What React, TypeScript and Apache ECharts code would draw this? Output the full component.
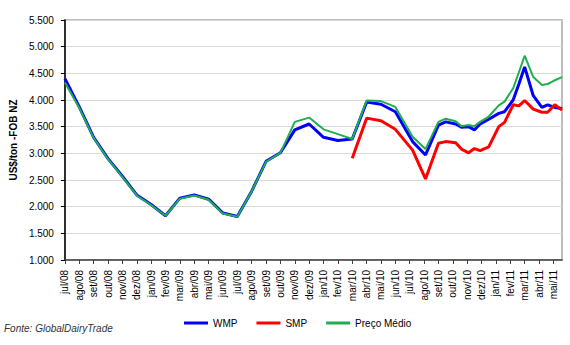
import React, { useEffect, useRef } from "react";
import * as echarts from "echarts";

// Month tick labels (index 0 = jul/08)
const monthLabels = [
  "jul/08", "ago/08", "set/08", "out/08", "nov/08", "dez/08",
  "jan/09", "fev/09", "mar/09", "abr/09", "mai/09", "jun/09",
  "jul/09", "ago/09", "set/09", "out/09", "nov/09", "dez/09",
  "jan/10", "fev/10", "mar/10", "abr/10", "mai/10", "jun/10",
  "jul/10", "ago/10", "set/10", "out/10", "nov/10", "dez/10",
  "jan/11", "fev/11", "mar/11", "abr/11", "mai/11",
];

// Auction positions, in months since jul/08
const auctionPos = [
  0, 1, 2, 3, 4, 5, 6, 7, 8, 9, 10, 11, 12, 13, 14, 15, 16, 17, 18, 19,
  20, 21, 22, 23, 24.2, 25.1, 26, 26.5, 27.2, 27.6, 28.1, 28.5, 28.9, 29.5,
  30.2, 30.6, 31.2, 31.6, 32, 32.6, 33.2, 33.6, 34.1, 34.6,
];

// US$/ton FOB NZ
const wmp = [
  4400, 3870, 3300, 2900, 2570, 2220, 2040, 1830, 2160, 2220, 2140, 1880, 1815, 2290, 2850, 3010, 3440, 3550, 3300, 3240,
  3270, 3960, 3920, 3780, 3220, 2970, 3530, 3590, 3550, 3490, 3500, 3440, 3550, 3640,
  3750, 3780, 4000, 4300, 4620, 4080, 3860, 3910, 3860, 3840,
];
const smp = [
  null, null, null, null, null, null, null, null, null, null, null, null, null, null, null, null, null, null, null, null,
  2910, 3660, 3610, 3450, 3060, 2520, 3190, 3220, 3200, 3080, 3010, 3090, 3050, 3120,
  3500, 3580, 3910, 3890, 3990, 3830, 3770, 3770, 3910, 3810,
];
const precoMedio = [
  4330, 3850, 3290, 2890, 2560, 2210, 2030, 1830, 2150, 2210, 2130, 1870, 1810, 2290, 2840, 3010, 3590, 3670, 3450, 3360,
  3270, 3990, 3980, 3870, 3310, 3080, 3590, 3650, 3600, 3510, 3530, 3510, 3590, 3690,
  3900, 3970, 4220, 4520, 4830, 4430, 4280, 4300, 4370, 4430,
];

const yTicks = [1000, 1500, 2000, 2500, 3000, 3500, 4000, 4500, 5000, 5500];

const fmtThousands = (v: number) =>
  `${Math.floor(v / 1000)}.${String(v % 1000).padStart(3, "0")}`;

const pairs = (vals: (number | null)[]) =>
  auctionPos.map((p, i) => [p, vals[i] === null ? null : vals[i]]).filter((d) => d[1] !== null);

const FONT = "Liberation Sans, Arial, sans-serif";

export default function App() {
  const ref = useRef<HTMLDivElement>(null);
  useEffect(() => {
    if (!ref.current) return;
    const chart = echarts.init(ref.current, null, { renderer: "svg" });
    const monthIdx = monthLabels.map((_, i) => i);
    chart.setOption({
      animation: false,
      backgroundColor: "#fff",
      textStyle: { fontFamily: FONT },
      grid: {
        left: 61,
        right: 8,
        top: 20,
        bottom: 85,
        show: true,
        borderColor: "#a6a6a6",
        borderWidth: 1.5,
      },
      xAxis: {
        type: "value",
        min: 0,
        max: 34.6,
        interval: 1,
        axisLine: { show: true, onZero: false, lineStyle: { color: "#404040", width: 1.5 } },
        axisTick: {
          show: true,
          inside: false,
          length: 4,
          customValues: monthIdx,
          lineStyle: { color: "#404040" },
        },
        axisLabel: {
          rotate: 90,
          margin: 10,
          fontSize: 10,
          color: "#000",
          fontFamily: FONT,
          customValues: monthIdx,
          formatter: (v: number) => monthLabels[Math.round(v)] ?? "",
        },
        splitLine: { show: false },
      },
      yAxis: {
        type: "value",
        min: 1000,
        max: 5500,
        interval: 500,
        name: "US$/ton -FOB NZ",
        nameLocation: "middle",
        nameGap: 44,
        nameTextStyle: { fontWeight: "bold", fontSize: 10, color: "#000", fontFamily: FONT },
        axisLine: { show: true, lineStyle: { color: "#000", width: 1.5 } },
        axisTick: { show: true, inside: false, length: 4, lineStyle: { color: "#000" } },
        axisLabel: {
          margin: 11,
          fontSize: 10,
          color: "#000",
          fontFamily: FONT,
          formatter: (v: number) => (yTicks.includes(v) ? fmtThousands(v) : ""),
        },
        splitLine: { show: true, lineStyle: { color: "#d9d9d9", width: 1 } },
      },
      legend: {
        left: 179,
        top: 313,
        icon: "rect",
        itemWidth: 24,
        itemHeight: 3,
        itemGap: 19,
        textStyle: { fontSize: 10, color: "#000", fontFamily: FONT },
        data: ["WMP", "SMP", "Preço Médio"],
      },
      graphic: [
        {
          type: "text",
          left: 4,
          top: 323,
          style: {
            text: "Fonte: GlobalDairyTrade",
            font: `italic 10px ${FONT}`,
            fill: "#333",
          },
        },
      ],
      series: [
        {
          name: "WMP",
          type: "line",
          data: pairs(wmp),
          symbol: "none",
          lineStyle: { color: "#0000ff", width: 3 },
          itemStyle: { color: "#0000ff" },
        },
        {
          name: "SMP",
          type: "line",
          data: pairs(smp),
          symbol: "none",
          lineStyle: { color: "#ff0000", width: 3 },
          itemStyle: { color: "#ff0000" },
        },
        {
          name: "Preço Médio",
          type: "line",
          data: pairs(precoMedio),
          symbol: "none",
          lineStyle: { color: "#1fae4f", width: 2 },
          itemStyle: { color: "#1fae4f" },
        },
      ],
    });
    return () => chart.dispose();
  }, []);
  return (
    <div
      ref={ref}
      style={{ position: "fixed", left: 0, top: 0, width: 570, height: 345 }}
    />
  );
}
